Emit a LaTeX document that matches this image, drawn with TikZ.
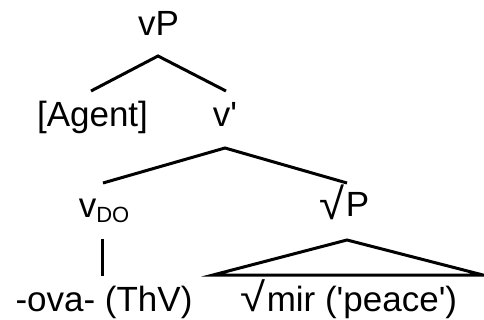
\documentclass[tikz,border=0pt]{standalone}
\usepackage{fontspec}
\setmainfont{Liberation Sans}
\newcommand{\myroot}{\raisebox{-2pt}{\scalebox{1.3}[1.25]{√}}\hspace{1pt}}
\newcommand{\myrootlow}{\scalebox{1.3}[1.15]{√}\hspace{1pt}}
\begin{document}
\begin{tikzpicture}[x=1pt,y=-1pt,
  lbl/.style={inner sep=0pt, anchor=base, font=\fontsize{35}{40}\selectfont},
  br/.style={line width=3pt, line cap=butt, line join=miter}]
\useasboundingbox[fill=white] (0,0) rectangle (484,320);
\node[lbl] (vP) at (158.5,36) {vP};
\node[lbl] (Agent) at (92.5,127) {[Agent]};
\node[lbl] (vbar) at (225,127) {v\textquotesingle};
\node[lbl] (vDO) at (104,218) {v{\fontsize{22}{26}\selectfont\raisebox{-5pt}{DO}}};
\node[lbl] (rootP) at (344.5,217) {\myroot P};
\node[lbl] (ova) at (104,311) {-ova- (ThV)};
\node[lbl] (mir) at (349,311) {\myrootlow mir (\textquotesingle peace\textquotesingle)};
% vP branches
\draw[br] ([xshift=-1.5pt,yshift=36pt]Agent.base) -- ([xshift=-0.5pt,yshift=-20pt]vP.base) -- ([xshift=1pt,yshift=36pt]vbar.base);
% v' branches
\draw[br] ([xshift=-1pt,yshift=35pt]vDO.base) -- ([yshift=-21pt]vbar.base) -- ([xshift=2.5pt,yshift=34pt]rootP.base);
% vDO to ova
\draw[br] ([xshift=-2pt,yshift=-21pt]vDO.base) -- ([xshift=-2pt,yshift=35pt]ova.base);
% triangle
\draw[br] ([xshift=2.5pt,yshift=-23pt]rootP.base) -- ([xshift=134pt,yshift=36pt]mir.base) -- ([xshift=-136pt,yshift=36pt]mir.base) -- cycle;
\end{tikzpicture}
\end{document}
